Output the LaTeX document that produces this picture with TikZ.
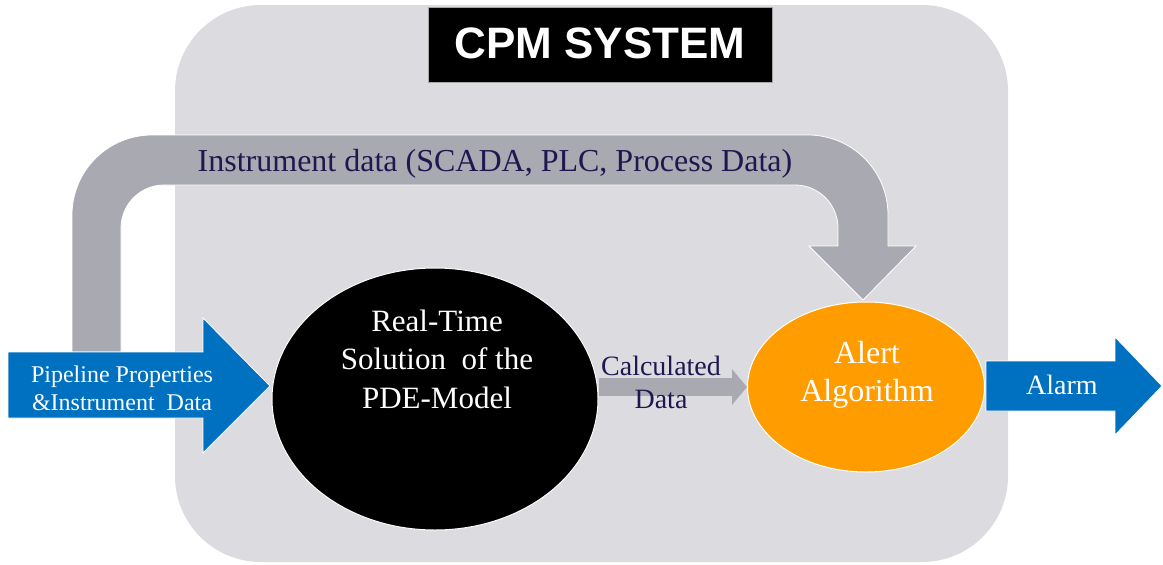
\documentclass[tikz,border=0pt]{standalone}
\usepackage{fontspec}
\setmainfont{Liberation Serif}
\newfontfamily\titlefont{Liberation Sans}
\usetikzlibrary{shapes.geometric,arrows.meta}
\definecolor{panelgray}{HTML}{DCDCE0}
\definecolor{arrowgray}{HTML}{A9A9B1}
\definecolor{cpmblue}{HTML}{0070C0}
\definecolor{cpmorange}{HTML}{FF9C00}
\definecolor{navytext}{HTML}{1E1850}
\tikzset{
  bluearrow/.style={fill=cpmblue, draw=white, line width=0.8pt},
  grayshape/.style={fill=arrowgray, draw=white, line width=0.8pt},
  whitetext/.style={text=white, align=center, inner sep=0pt},
  navylabel/.style={text=navytext, align=center, inner sep=0pt},
  blob/.style={ellipse, draw=white, line width=1pt, inner sep=0pt},
}
\begin{document}
\begin{tikzpicture}[x=1pt,y=-1pt]
\useasboundingbox (0,0) rectangle (1163,565);
% panel
\fill[panelgray, rounded corners=86pt] (175,5) rectangle (1008,562);
% title
\node[fill=black, draw=gray!70, line width=0.6pt, minimum width=344pt, minimum height=75pt, inner sep=0pt] (titlebox) at (600,44.5) {};
\node[text=white, inner sep=0pt, font=\titlefont\bfseries\fontsize{44}{50}\selectfont] (titletext) at (600,43) {CPM SYSTEM};
% curved instrument-data arrow
\coordinate (armbottom) at (96,352);
\coordinate (armtip) at (863,300);
\path[grayshape] (72,352) -- (72,215) .. controls (72,170.8) and (107.8,135) .. (152,135)
  -- (808,135) .. controls (852.2,135) and (888,170.8) .. (888,215)
  -- (888,246) -- (916,246) -- (armtip) -- (809,246) -- (838,246) -- (838,228)
  .. controls (838,204.3) and (818.7,185) .. (795,185)
  -- (164,185) .. controls (140.3,185) and (121,204.3) .. (121,228) -- (121,352) -- cycle;
\node[navylabel, font=\fontsize{32}{38}\selectfont, anchor=base] (instr) at (495,171) {Instrument data (SCADA, PLC, Process Data)};
% blue input arrow
\path[bluearrow] (8,352) -- (203,352) -- (203,318) -- (270,386) -- (203,453) -- (203,418) -- (8,418) -- cycle;
\node[whitetext, font=\fontsize{24}{28}\selectfont] (inputtext) at (122,388) {Pipeline Properties\\\&Instrument~ Data};
% blue output arrow
\path[bluearrow] (986,361) -- (1115,361) -- (1115,337) -- (1162,386) -- (1115,435) -- (1115,411) -- (986,411) -- cycle;
\node[whitetext, font=\fontsize{28}{32}\selectfont, anchor=base] (alarm) at (1062,394) {Alarm};
% ellipses
\node[blob, fill=black, minimum width=326pt, minimum height=262pt] (pde) at (435,399) {};
\node[blob, fill=cpmorange, minimum width=237pt, minimum height=170pt] (alert) at (866,387) {};
\node[whitetext, font=\fontsize{31}{38.5}\selectfont] (pdetext) at (437,359) {Real-Time\\Solution~~of the\\PDE-Model};
\node[whitetext, font=\fontsize{32}{38}\selectfont] (alerttext) at (867,375) {Alert\\Algorithm};
% calculated data connector
\draw[arrowgray, line width=18pt, -{Triangle[length=15pt,width=35pt]}] (pde.east |- alert.west) -- (alert.west);
\node[navylabel, font=\fontsize{28}{33}\selectfont] (calc) at (661,382) {Calculated\\Data};
\end{tikzpicture}
\end{document}
